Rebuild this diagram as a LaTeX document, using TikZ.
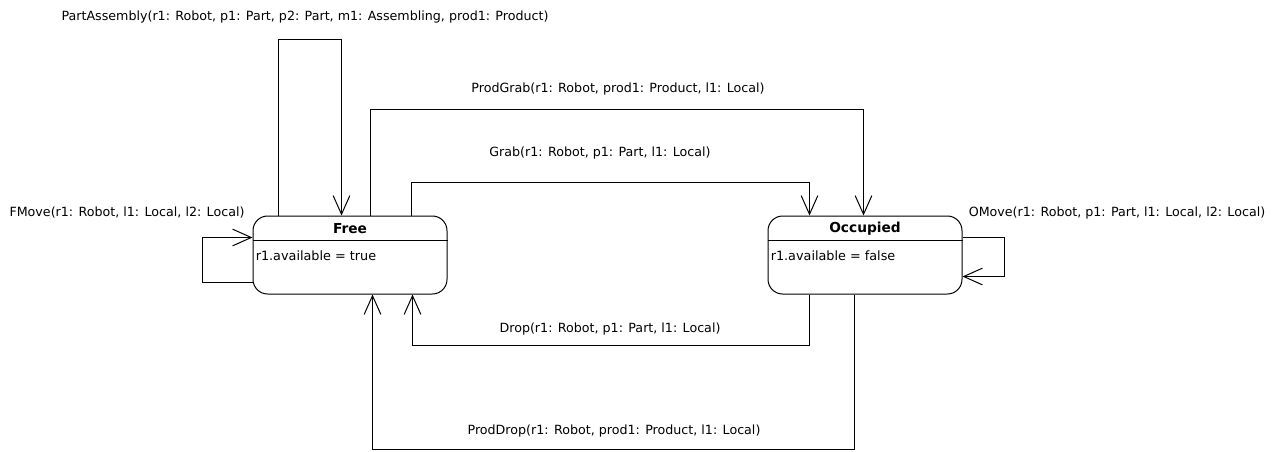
\documentclass[tikz,border=0pt]{standalone}
\usepackage{fontspec}
\setmainfont{DejaVu Sans}
\usetikzlibrary{arrows.meta,calc}
\begin{document}
\begin{tikzpicture}[x=0.75pt,y=-0.75pt,
  statebox/.style={draw,rectangle,rounded corners=11pt,minimum width=145.5pt,
    minimum height=58.5pt,inner sep=0pt,line width=0.75pt},
  trans/.style={draw,line width=0.75pt,-{Straight Barb[length=14pt,width=12.5pt,line width=0.75pt]}},
  lbl/.style={font=\fontsize{9.5}{11}\selectfont,inner sep=0pt},
  title/.style={font=\fontsize{10.3}{12}\selectfont\bfseries,inner sep=0pt},
  attr/.style={font=\fontsize{9.6}{11}\selectfont,inner sep=0pt,anchor=west}]
\useasboundingbox (0,0) rectangle (1274,451);

% states
\node[statebox] (free) at (350,255) {};
\node[statebox] (occ) at (865,255) {};
\draw[line width=0.75pt] ($(free.north west)+(0,25)$) -- ($(free.north east)+(0,25)$);
\draw[line width=0.75pt] ($(occ.north west)+(0,25)$) -- ($(occ.north east)+(0,25)$);
\node[title] (freeT) at ($(free.north)+(0,13)$) {Free};
\node[title] (occT) at ($(occ.north)+(0,13)$) {Occupied};
\node[attr] (freeA) at ($(free.north west)+(3,40)$) {r1.available = true};
\node[attr] (occA) at ($(occ.north west)+(3,40)$) {r1.available = false};

% transitions
\draw[trans] ($(free.north west)+(26,0)$) -- ++(0,-176) -| ($(free.north west)+(89,0)$);
\draw[trans] ($(free.north west)+(118,0)$) -- ++(0,-106) -| ($(occ.north west)+(96,0)$);
\draw[trans] ($(free.north west)+(159,0)$) -- ++(0,-33) -| ($(occ.north west)+(42,0)$);
\draw[trans] ($(free.south west)+(0,-12)$) -- ++(-50,0) |- ($(free.north west)+(0,22)$);
\draw[trans] ($(occ.north east)+(0,22)$) -- ++(42,0) |- ($(occ.south east)+(0,-18)$);
\draw[trans] ($(occ.south west)+(42,0)$) -- ++(0,51) -| ($(free.south west)+(160,0)$);
\draw[trans] ($(occ.south west)+(87,0)$) -- ++(0,155) -| ($(free.south west)+(120,0)$);

% labels
\node[lbl] (lPA) at (305,17) {PartAssembly(r1: Robot, p1: Part, p2: Part, m1: Assembling, prod1: Product)};
\node[lbl] (lPG) at (618,89) {ProdGrab(r1: Robot, prod1: Product, l1: Local)};
\node[lbl] (lG) at (600,153) {Grab(r1: Robot, p1: Part, l1: Local)};
\node[lbl] (lFM) at (127,213) {FMove(r1: Robot, l1: Local, l2: Local)};
\node[lbl] (lOM) at (1117,213) {OMove(r1: Robot, p1: Part, l1: Local, l2: Local)};
\node[lbl] (lD) at (610,329) {Drop(r1: Robot, p1: Part, l1: Local)};
\node[lbl] (lPD) at (614,431) {ProdDrop(r1: Robot, prod1: Product, l1: Local)};
\end{tikzpicture}
\end{document}
